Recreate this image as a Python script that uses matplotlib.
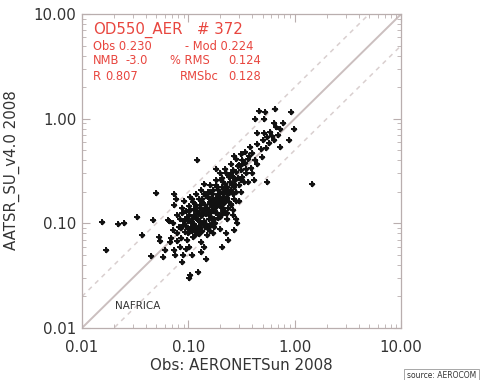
import numpy as np
import matplotlib
matplotlib.use("Agg")
import matplotlib.pyplot as plt
from matplotlib.ticker import FixedLocator, FuncFormatter, LogLocator

# AERONET obs vs AATSR model AOD
obs = [
    0.42, 0.46, 0.53, 0.65, 0.93, 0.51, 0.64, 0.78, 0.66, 0.98,
    0.44, 0.51, 0.58, 0.72, 0.70, 0.55, 0.61, 0.64, 0.88, 0.73,
    0.57, 0.50, 0.44, 0.38, 0.48, 0.54, 0.40, 0.37, 0.34, 0.31,
    0.36, 0.42, 0.44, 0.49, 0.28, 0.27, 0.25, 0.29, 0.32, 0.39,
    0.40, 0.35, 0.31, 0.28, 0.25, 0.22, 0.20, 0.18, 0.55, 1.45,
    0.12, 0.41, 0.36, 0.31, 0.27, 0.24, 0.21, 0.18, 0.16, 0.14,
    0.268, 0.312, 0.247, 0.223, 0.188, 0.168, 0.152, 0.131, 0.118, 0.109,
    0.133, 0.147, 0.163, 0.181, 0.207, 0.232, 0.271, 0.298, 0.252, 0.218,
    0.193, 0.172, 0.158, 0.142, 0.128, 0.112, 0.101, 0.091, 0.074, 0.076,
    0.104, 0.096, 0.087, 0.078, 0.084, 0.093, 0.113, 0.122, 0.135, 0.151,
    0.165, 0.18, 0.21, 0.23, 0.26, 0.28, 0.23, 0.20, 0.175, 0.157,
    0.138, 0.125, 0.108, 0.099, 0.089, 0.081, 0.072, 0.066, 0.071, 0.079,
    0.092, 0.102, 0.116, 0.129, 0.146, 0.161, 0.176, 0.197, 0.228, 0.266,
    0.287, 0.171, 0.149, 0.127, 0.111, 0.097, 0.086, 0.079, 0.069, 0.132,
    0.141, 0.208, 0.238, 0.102, 0.094, 0.083, 0.075, 0.089, 0.107, 0.058,
    0.073, 0.06, 0.053, 0.054, 0.067, 0.148, 0.131, 0.103, 0.101, 0.124,
    0.087, 0.0155, 0.022, 0.025, 0.033, 0.047, 0.037, 0.0167, 0.045, 0.05,
    0.065, 0.074,
    0.095, 0.105, 0.112, 0.118, 0.125, 0.132, 0.14, 0.148, 0.155, 0.162,
    0.17, 0.178, 0.185, 0.19, 0.198, 0.205, 0.21, 0.218, 0.225, 0.235,
    0.24, 0.25, 0.26, 0.27, 0.28, 0.29, 0.30, 0.32, 0.33, 0.35,
    0.12, 0.128, 0.135, 0.142, 0.15, 0.158, 0.165, 0.172, 0.18, 0.188,
    0.195, 0.20, 0.208, 0.215, 0.22, 0.23, 0.245, 0.255, 0.265, 0.275,
    0.085, 0.09, 0.098, 0.102, 0.108, 0.115, 0.122, 0.13, 0.138, 0.145,
    0.152, 0.16, 0.168, 0.175, 0.182, 0.192, 0.20, 0.212, 0.228, 0.238,
    0.099, 0.108, 0.115, 0.121, 0.128, 0.135, 0.142, 0.154, 0.158, 0.165,
    0.172, 0.178, 0.19, 0.202, 0.21, 0.222, 0.235, 0.25, 0.26, 0.28,
    0.088, 0.103, 0.111, 0.117, 0.126, 0.134, 0.139, 0.153, 0.157, 0.169,
    0.183, 0.187, 0.203, 0.207, 0.226, 0.242, 0.262, 0.297, 0.318, 0.342,
]
mod = [
    1.00, 1.18, 1.17, 1.25, 1.17, 1.00, 0.90, 0.90, 0.83, 0.80,
    0.73, 0.73, 0.75, 0.79, 0.70, 0.67, 0.68, 0.63, 0.63, 0.54,
    0.58, 0.63, 0.57, 0.54, 0.51, 0.52, 0.47, 0.44, 0.48, 0.46,
    0.41, 0.40, 0.37, 0.43, 0.41, 0.44, 0.37, 0.35, 0.37, 0.34,
    0.30, 0.30, 0.32, 0.31, 0.30, 0.33, 0.30, 0.33, 0.25, 0.24,
    0.40, 0.26, 0.25, 0.26, 0.27, 0.28, 0.25, 0.26, 0.23, 0.24,
    0.22, 0.20, 0.20, 0.21, 0.21, 0.19, 0.20, 0.21, 0.19, 0.17,
    0.172, 0.182, 0.168, 0.175, 0.166, 0.174, 0.169, 0.162, 0.152, 0.158,
    0.158, 0.148, 0.153, 0.141, 0.151, 0.138, 0.147, 0.162, 0.19, 0.17,
    0.18, 0.13, 0.125, 0.12, 0.11, 0.11, 0.12, 0.125, 0.12, 0.125,
    0.13, 0.125, 0.135, 0.125, 0.12, 0.11, 0.11, 0.115, 0.11, 0.11,
    0.10, 0.105, 0.10, 0.105, 0.097, 0.093, 0.10, 0.105, 0.087, 0.081,
    0.083, 0.088, 0.091, 0.086, 0.094, 0.085, 0.092, 0.089, 0.081, 0.087,
    0.10, 0.08, 0.077, 0.079, 0.074, 0.07, 0.073, 0.068, 0.073, 0.066,
    0.06, 0.06, 0.07, 0.06, 0.057, 0.06, 0.05, 0.05, 0.05, 0.048,
    0.055, 0.055, 0.074, 0.068, 0.066, 0.046, 0.053, 0.032, 0.03, 0.034,
    0.043, 0.104, 0.098, 0.10, 0.115, 0.107, 0.078, 0.055, 0.049, 0.195,
    0.107, 0.15,
    0.095, 0.092, 0.098, 0.088, 0.095, 0.10, 0.105, 0.098, 0.12, 0.115,
    0.13, 0.14, 0.125, 0.15, 0.145, 0.16, 0.14, 0.18, 0.17, 0.19,
    0.16, 0.21, 0.19, 0.24, 0.20, 0.27, 0.23, 0.28, 0.25, 0.33,
    0.13, 0.14, 0.125, 0.15, 0.14, 0.16, 0.15, 0.17, 0.16, 0.19,
    0.18, 0.20, 0.22, 0.20, 0.24, 0.22, 0.25, 0.23, 0.28, 0.26,
    0.09, 0.105, 0.115, 0.12, 0.11, 0.115, 0.108, 0.118, 0.13, 0.122,
    0.135, 0.128, 0.142, 0.155, 0.148, 0.165, 0.175, 0.19, 0.20, 0.21,
    0.08, 0.085, 0.078, 0.082, 0.09, 0.085, 0.092, 0.088, 0.095, 0.10,
    0.108, 0.10, 0.112, 0.12, 0.13, 0.125, 0.14, 0.15, 0.135, 0.165,
    0.14, 0.135, 0.16, 0.15, 0.17, 0.16, 0.19, 0.18, 0.20, 0.21,
    0.23, 0.22, 0.26, 0.27, 0.30, 0.29, 0.32, 0.36, 0.40, 0.38,
]

tick_vals = [0.01, 0.1, 1.0, 10.0]
ref_x = np.array([0.01, 10.0])

red = '#e8463f'
frame = '#b9aeae'

fig = plt.figure(figsize=(4.91, 3.80), dpi=100)
ax = fig.add_axes([0.167, 0.137, 0.65, 0.826])

# 1:1 line and factor-2 lines
ax.plot(ref_x, ref_x, color='#cbbfbf', lw=1.4, zorder=1)
ax.plot(ref_x, ref_x * 2, color='#d9cfcf', lw=1.1, dashes=(3, 3), zorder=1)
ax.plot(ref_x, ref_x / 2, color='#d9cfcf', lw=1.1, dashes=(3, 3), zorder=1)

# plus sign with a dark blob in the middle, like the IDL symbol
ax.scatter(obs, mod, marker='P', s=22, color='#1a1a1a', linewidths=0, zorder=3)
ax.scatter(obs, mod, marker='D', s=9, color='#111111', linewidths=0, zorder=4)

ax.set_xscale('log')
ax.set_yscale('log')
ax.set_xlim(0.01, 10)
ax.set_ylim(0.01, 10)

fmt = FuncFormatter(lambda v, p: '%.2f' % v)
for axis in (ax.xaxis, ax.yaxis):
    axis.set_major_locator(FixedLocator(tick_vals))
    axis.set_major_formatter(fmt)
    axis.set_minor_locator(LogLocator(base=10, subs=np.arange(2, 10)))
    axis.set_minor_formatter(FuncFormatter(lambda v, p: ''))

ax.tick_params(which='both', direction='in', top=True, right=True, color=frame,
               labelsize=10.8, labelcolor='#333333')
ax.tick_params(which='major', length=6, width=0.8)
ax.tick_params(which='minor', length=3, width=0.6)
ax.tick_params(axis='x', pad=9)
ax.tick_params(axis='y', pad=4)
for s in ax.spines.values():
    s.set_color(frame)
    s.set_linewidth(0.9)

ax.set_xlabel('Obs: AERONETSun 2008', fontsize=10.8, color='#333333', labelpad=2)
fig.text(12 / 491, 1 - 170 / 380, 'AATSR_SU_v4.0 2008', rotation=90,
         ha='center', va='center', fontsize=10.8, color='#333333')


def ftxt(x, y, s, **kw):
    fig.text(x / 491, 1 - y / 380, s, va='center', **kw)


ftxt(93, 30, 'OD550_AER', fontsize=10.8, color=red)
ftxt(197, 30, '# 372', fontsize=10.8, color=red)
ftxt(93, 47, 'Obs 0.230', fontsize=8.3, color=red)
ftxt(185, 47, '- Mod 0.224', fontsize=8.3, color=red)
ftxt(93, 61, 'NMB', fontsize=8.3, color=red)
ftxt(125, 61, '-3.0', fontsize=8.3, color=red)
ftxt(170, 61, '% RMS', fontsize=8.3, color=red)
ftxt(228, 61, '0.124', fontsize=8.3, color=red)
ftxt(93, 76, 'R', fontsize=8.3, color=red)
ftxt(105, 76, '0.807', fontsize=8.3, color=red)
ftxt(180, 76, 'RMSbc', fontsize=8.3, color=red)
ftxt(228, 76, '0.128', fontsize=8.3, color=red)

ftxt(115, 306, 'NAFRICA', fontsize=7.5, color='#333333')

fig.text(407 / 491, 1 - 376 / 380, 'source: AEROCOM', fontsize=5.5, color='#333333',
         va='center', ha='left',
         bbox=dict(boxstyle='square,pad=0.35', fc='white', ec='#999999', lw=0.6))

fig.savefig('out.png', dpi=100)
